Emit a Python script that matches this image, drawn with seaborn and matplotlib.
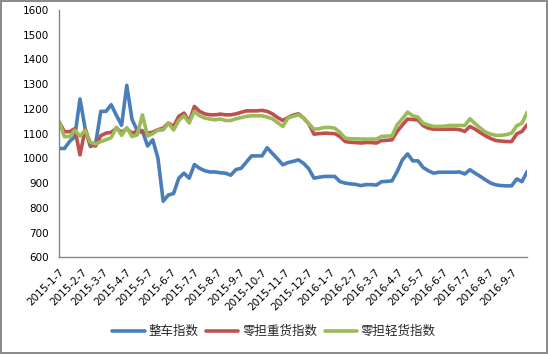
import matplotlib
matplotlib.use("Agg")
import matplotlib.pyplot as plt
import matplotlib.dates as mdates
import pandas as pd
import seaborn as sns

# Weekly index values, 2015-1-7 .. 2016-9-28
dates = pd.date_range("2015-01-07", periods=91, freq="7D")

truck = [1040, 1040, 1068, 1088, 1240, 1120, 1048, 1058, 1190, 1190,
         1217, 1174, 1134, 1295, 1158, 1113, 1112, 1050, 1075, 1000,
         827, 852, 858, 920, 940, 920, 975, 960, 950, 945,
         945, 942, 940, 932, 955, 960, 985, 1010, 1010, 1010,
         1043, 1020, 998, 974, 983, 988, 994, 980, 958, 920,
         924, 927, 927, 927, 906, 900, 897, 895, 890, 894,
         894, 892, 906, 907, 909, 947, 994, 1018, 990, 990,
         963, 950, 940, 944, 944, 944, 944, 945, 937, 954,
         940, 927, 913, 900, 893, 890, 889, 889, 917, 906,
         947]

heavy = [1147, 1108, 1108, 1120, 1014, 1118, 1055, 1050, 1092, 1102,
         1105, 1122, 1105, 1120, 1102, 1110, 1105, 1102, 1106, 1116,
         1122, 1143, 1129, 1170, 1183, 1149, 1210, 1190, 1180, 1176,
         1176, 1179, 1176, 1176, 1180, 1186, 1192, 1192, 1192, 1194,
         1190, 1180, 1165, 1153, 1165, 1175, 1180, 1163, 1140, 1098,
         1100, 1102, 1101, 1100, 1088, 1068, 1065, 1064, 1062, 1064,
         1064, 1062, 1072, 1073, 1075, 1109, 1135, 1159, 1157, 1156,
         1132, 1122, 1118, 1118, 1118, 1118, 1118, 1116, 1109, 1129,
         1118, 1104, 1091, 1080, 1072, 1070, 1068, 1068, 1099, 1109,
         1136]

light = [1149, 1088, 1088, 1114, 1090, 1114, 1065, 1058, 1068, 1075,
         1084, 1126, 1093, 1124, 1088, 1095, 1176, 1090, 1100, 1114,
         1115, 1142, 1115, 1153, 1172, 1143, 1190, 1172, 1163, 1159,
         1156, 1159, 1153, 1153, 1160, 1165, 1170, 1172, 1172, 1172,
         1167, 1160, 1145, 1129, 1163, 1170, 1176, 1163, 1140, 1118,
         1120, 1125, 1125, 1122, 1105, 1082, 1079, 1079, 1078, 1078,
         1078, 1078, 1089, 1090, 1091, 1136, 1160, 1187, 1172, 1167,
         1142, 1135, 1129, 1129, 1130, 1133, 1133, 1133, 1133, 1160,
         1140, 1122, 1106, 1098, 1093, 1093, 1096, 1102, 1132, 1142,
         1186]

series_names = ["整车指数", "零担重货指数", "零担轻货指数"]
colors = ["#4A7EBB", "#C0504D", "#9BBB59"]

tick_dates = pd.date_range("2015-01-01", "2016-09-01", freq="MS") + pd.Timedelta(days=6)
tick_labels = [f"{d.year}-{d.month}-7" for d in tick_dates]

df = pd.DataFrame({"date": dates, series_names[0]: truck,
                   series_names[1]: heavy, series_names[2]: light})
long = df.melt(id_vars="date", var_name="series", value_name="value")

sns.set_style("white")
plt.rcParams["font.family"] = ["DejaVu Sans", "Noto Sans CJK SC"]

fig, ax = plt.subplots(figsize=(5.48, 3.54), dpi=100,
                       linewidth=1.5, edgecolor="#8c8c8c")
fig.subplots_adjust(left=0.108, right=0.962, bottom=0.273, top=0.972)

sns.lineplot(data=long, x="date", y="value", hue="series",
             hue_order=series_names, palette=colors, linewidth=2.6,
             legend=False, ax=ax)

ax.set_xlim(dates[0], dates[-1])
ax.set_ylim(600, 1600)
ax.set_yticks(range(600, 1601, 100))
ax.set_xticks(mdates.date2num(tick_dates))
ax.set_xticklabels(tick_labels, rotation=45, ha="right",
                   rotation_mode="anchor")
ax.set_xlabel("")
ax.set_ylabel("")
ax.tick_params(axis="both", labelsize=7.5, colors="#868686",
               labelcolor="black", length=4, width=1, direction="out")
ax.tick_params(axis="x", pad=3)
for side in ["top", "right"]:
    ax.spines[side].set_visible(False)
for side in ["left", "bottom"]:
    ax.spines[side].set_color("#868686")
    ax.spines[side].set_linewidth(1)

handles = [plt.Line2D([], [], color=c, lw=2.6) for c in colors]
fig.legend(handles, series_names, loc="center", bbox_to_anchor=(0.5, 0.063),
           ncol=3, frameon=False, fontsize=9, handlelength=2.6,
           handletextpad=0.3, columnspacing=0.6)

fig.savefig("out.png", dpi=100)
